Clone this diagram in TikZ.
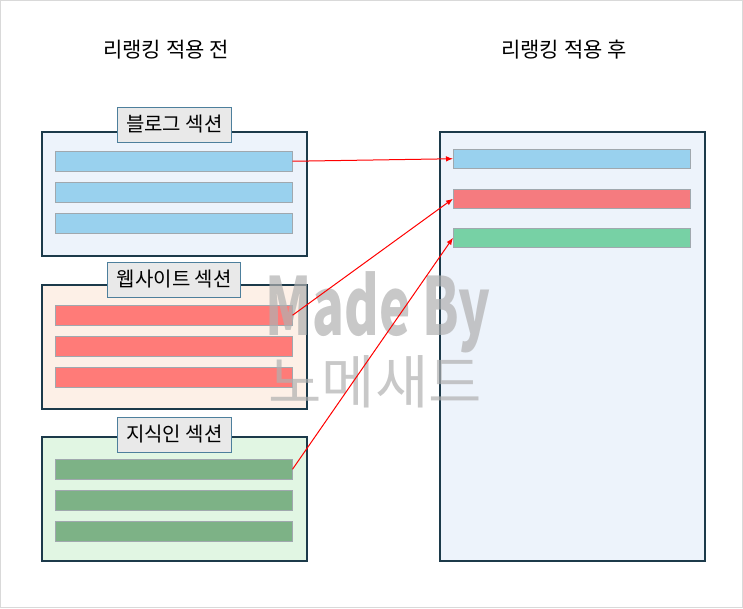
\documentclass[tikz,border=0pt]{standalone}
\usepackage{fontspec}
\setmainfont{Noto Sans CJK KR}
\usetikzlibrary{arrows.meta}

\definecolor{frameline}{HTML}{D9D9D9}
\definecolor{boxline}{HTML}{1C3A4A}
\definecolor{tagline}{HTML}{4D7F9C}
\definecolor{tagfill}{HTML}{E9E9E9}
\definecolor{barline}{HTML}{A0A8AE}
\definecolor{blogfill}{HTML}{EDF3FB}
\definecolor{webfill}{HTML}{FDF0E7}
\definecolor{kinfill}{HTML}{E1F6E3}
\definecolor{blogbar}{HTML}{99D1EE}
\definecolor{webbar}{HTML}{FF7B78}
\definecolor{kinbar}{HTML}{7DB286}
\definecolor{rankred}{HTML}{F57B7F}
\definecolor{rankgreen}{HTML}{77D1A5}
\definecolor{markgray}{HTML}{B0B0B0}

\begin{document}
\begin{tikzpicture}[x=1pt,y=-1pt,>={Latex[length=7pt,width=5.5pt]},
    section/.style={draw=boxline,line width=1.7pt,minimum width=265pt,
      minimum height=124pt,anchor=north west,inner sep=0pt},
    tag/.style={draw=tagline,fill=tagfill,line width=0.9pt,
      font=\fontsize{20}{20}\selectfont,minimum height=35pt,inner xsep=9pt},
    bar/.style={draw=barline,line width=0.5pt,minimum width=237pt,
      minimum height=20pt,anchor=north west,inner sep=0pt},
    title/.style={font=\fontsize{21}{21}\selectfont},
    watermark/.style={text=markgray,opacity=0.7,inner sep=0pt}]
  \useasboundingbox (0,0) rectangle (743,608);
  \draw[frameline] (0.5,0.5) rectangle (742.5,607.5);

  % titles
  \node[title] (before) at (166,50) {리랭킹 적용 전};
  \node[title] (after) at (564,50) {리랭킹 적용 후};

  % sections before reranking
  \node[section,fill=blogfill] (blog) at (41,131) {};
  \node[section,fill=webfill] (web) at (41,284) {};
  \node[section,fill=kinfill] (kin) at (41,436) {};
  \foreach \i in {1,2,3} {
    \node[bar,fill=blogbar] (blogbar\i) at ([shift={(14,-11+31*\i)}]blog.north west) {};
    \node[bar,fill=webbar] (webbar\i) at ([shift={(14,-10+31*\i)}]web.north west) {};
    \node[bar,fill=kinbar] (kinbar\i) at ([shift={(14,-8+31*\i)}]kin.north west) {};
  }
  \node[tag] (blogtag) at ([yshift=6.5pt]blog.north) {블로그 섹션};
  \node[tag] (webtag) at ([yshift=4.5pt]web.north) {웹사이트 섹션};
  \node[tag] (kintag) at ([yshift=1.5pt]kin.north) {지식인 섹션};

  % after reranking
  \node[section,fill=blogfill,minimum height=429pt] (result) at (439,131) {};
  \node[bar,fill=blogbar,minimum height=19pt] (rank1) at (453,149) {};
  \node[bar,fill=rankred,minimum height=19pt] (rank2) at (453,189) {};
  \node[bar,fill=rankgreen,minimum height=19pt] (rank3) at (453,228) {};

  % watermark
  \node[watermark,font=\fontsize{80}{80}\selectfont\bfseries,xscale=0.66] (madeby) at (378,312) {Made By};
  \node[watermark,font=\fontsize{58}{58}\selectfont,xscale=1.0] (maker) at (375,382) {노메새드};

  % reranking arrows
  \draw[->,red,line width=1pt] (blogbar1.east) -- (rank1.west);
  \draw[->,red,line width=1pt] (webbar1.east) -- (rank2.west);
  \draw[->,red,line width=1pt] (kinbar1.east) -- (rank3.west);
\end{tikzpicture}
\end{document}
